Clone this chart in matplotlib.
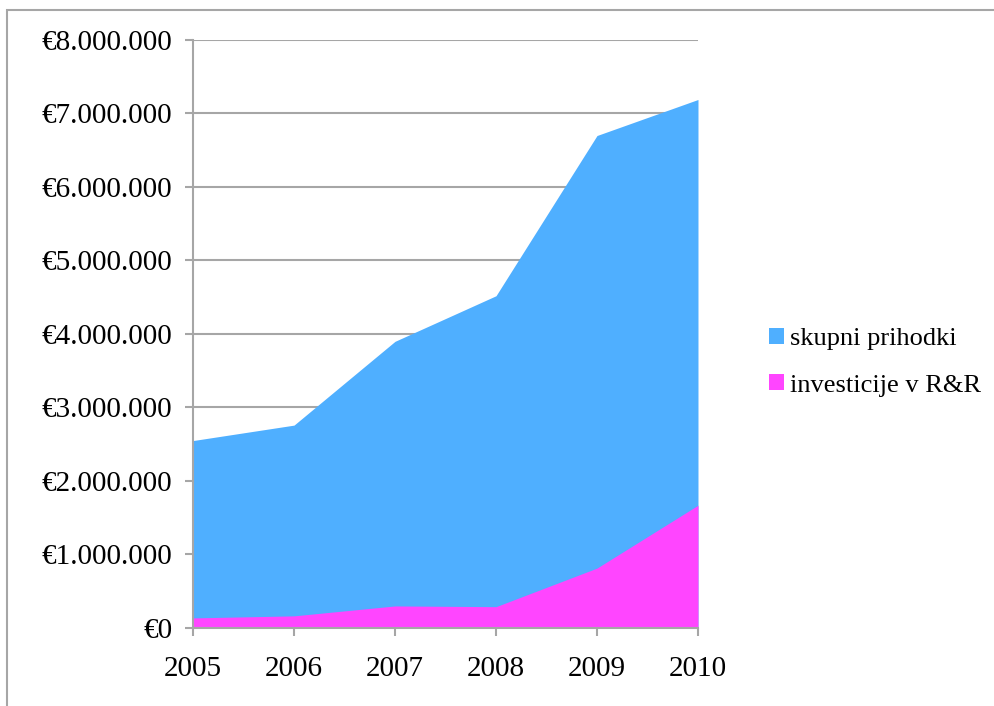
import matplotlib.pyplot as plt
from matplotlib.patches import Rectangle
from matplotlib.ticker import FuncFormatter

# data
years = [2005, 2006, 2007, 2008, 2009, 2010]
skupni_prihodki = [2550000, 2760000, 3900000, 4520000, 6700000, 7190000]
investicije = [137000, 165000, 300000, 290000, 815000, 1670000]

plt.rcParams['font.family'] = ['Liberation Serif', 'DejaVu Serif']

fig = plt.figure(figsize=(9.94, 7.06), dpi=100)
ax = fig.add_axes([0.1942, 0.1105, 0.508, 0.8329])

# outer chart frame
fig.patches.append(Rectangle((0.007, -0.01), 1.1, 0.996, transform=fig.transFigure,
                             fill=False, edgecolor='#a6a6a6', linewidth=1.5))

ax.fill_between(years, 0, skupni_prihodki, color='#4FAFFF', linewidth=0,
                label='skupni prihodki')
ax.fill_between(years, 0, investicije, color='#FF45FF', linewidth=0,
                label='investicije v R&R')

ax.set_xlim(2005, 2010)
ax.set_ylim(0, 8000000)
ax.set_xticks(years)
ax.set_yticks(range(0, 8000001, 1000000))

def euro(v, pos):
    if v == 0:
        return '€0'
    return '€' + f'{int(v):,}'.replace(',', '.')

ax.yaxis.set_major_formatter(FuncFormatter(euro))
ax.grid(axis='y', color='#a6a6a6', linewidth=1.5)
ax.set_axisbelow(True)
for s in ['top', 'right']:
    ax.spines[s].set_visible(False)
for s in ['left', 'bottom']:
    ax.spines[s].set_color('#a6a6a6')
    ax.spines[s].set_linewidth(1.5)
ax.tick_params(axis='both', colors='#a6a6a6', width=1.5, length=6,
               labelcolor='black', labelsize=21)
ax.tick_params(axis='y', pad=9)
ax.tick_params(axis='x', pad=14)

ax.legend(loc='center left', bbox_to_anchor=(1.093, 0.452), frameon=False,
          fontsize=19, handlelength=0.57, handleheight=0.57, handletextpad=0.25,
          labelspacing=0.9)

plt.savefig('out.png', dpi=100)
